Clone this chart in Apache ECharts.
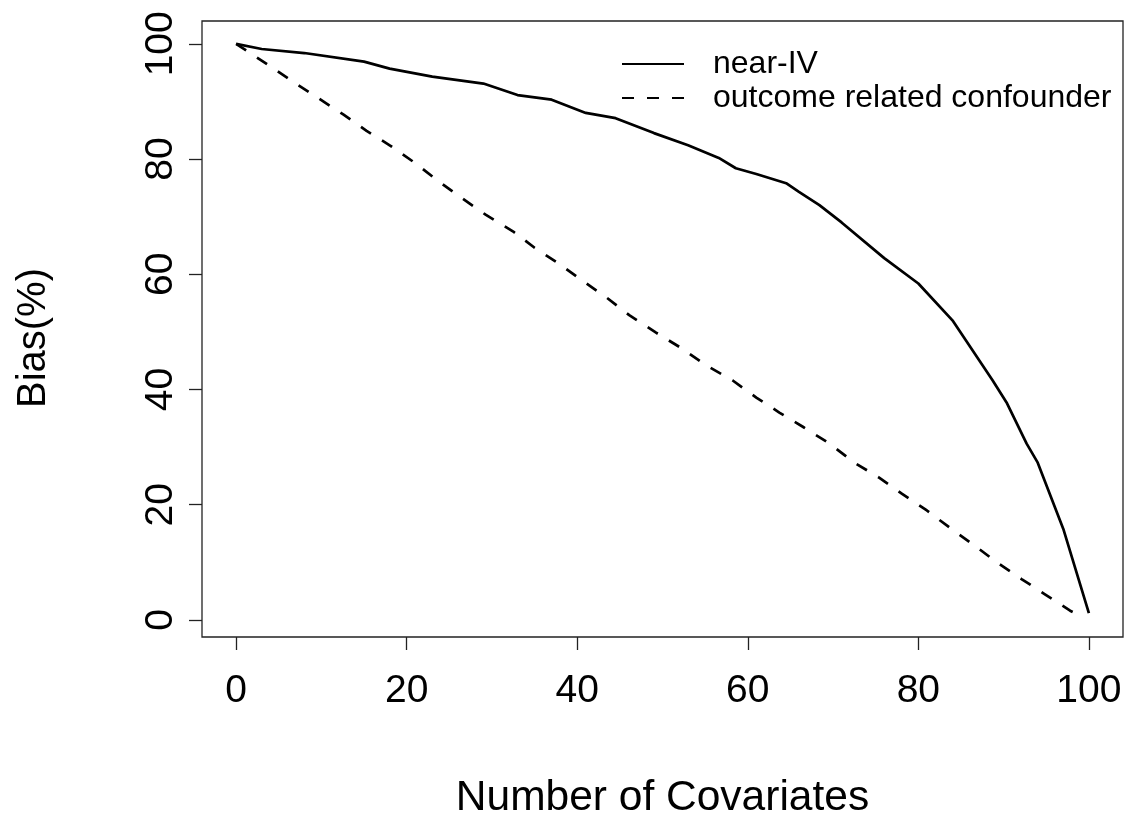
<!DOCTYPE html>
<html>
<head>
<meta charset="utf-8">
<script src="https://cdn.jsdelivr.net/npm/echarts@6/dist/echarts.min.js"></script>
<style>
html,body{margin:0;padding:0;background:#fff;}
#chart{width:1128px;height:819px;}
</style>
</head>
<body>
<div id="chart"></div>
<script>
// near-IV (solid)
const nearIV_x = [0,3,8,15,18,23,29,33,37,41,44.5,49,53,56.6,58.6,61,64.5,66,68.4,71,76,80,84,88.7,90.4,92.7,94,97,100];
const nearIV_y = [100,99.1,98.4,96.9,95.7,94.3,93.1,91.1,90.3,88.0,87.1,84.5,82.4,80.2,78.4,77.4,75.8,74.3,72.0,69.0,62.8,58.4,52.0,41.6,37.6,30.6,27.3,15.8,1.2];
// outcome related confounder (dashed)
const conf_x = [0,3.8,6.9,9.6,12.6,15.3,18.1,21.0,23.6,26.3,29.3,32.6,35,37.8,40.5,43.4,46.1,49.2,52.3,55.1,58.2,61,63.7,66.6,69.6,72.5,75.4,78.1,81,83.7,86.6,89.3,92.1,94.8,97.8,98.6];
const conf_y = [100,96.3,93.2,90.6,87.7,84.9,82.3,79.3,76.3,73.4,70.3,67.3,64.6,61.9,59.0,56.0,52.9,49.9,47.1,44.2,41.6,38.6,36.0,33.4,30.6,27.3,24.7,21.9,19.0,16.0,12.9,9.9,7.1,4.5,1.6,1.0];
const xTicks = [0,20,40,60,80,100];
const yTicks = [0,20,40,60,80,100];
const seriesNames = ['near-IV','outcome related confounder'];
const xTitle = 'Number of Covariates';
const yTitle = 'Bias(%)';

const FONT = 'Liberation Sans, Arial, sans-serif';
const chart = echarts.init(document.getElementById('chart'), null, {renderer:'canvas'});
chart.setOption({
  animation:false,
  backgroundColor:'#fff',
  grid:{left:202,right:5,top:21,bottom:182,show:true,borderColor:'#222',borderWidth:1.3,backgroundColor:'transparent',outerBoundsMode:'none',containLabel:false},
  legend:{
    orient:'vertical', left:616, top:43, itemWidth:62, itemHeight:20, itemGap:2,
    data:seriesNames,
    itemStyle:{opacity:0},
    textStyle:{fontFamily:FONT,fontSize:32,color:'#000',padding:[0,0,0,24]}
  },
  xAxis:{
    type:'value', min:-4, max:104,
    axisLine:{show:false,onZero:false},
    splitLine:{show:false},
    axisTick:{show:true,length:13,inside:false,customValues:xTicks,lineStyle:{color:'#222',width:1.3}},
    axisLabel:{customValues:xTicks,fontFamily:FONT,fontSize:39,color:'#000',margin:35},
    name:xTitle, nameLocation:'middle', nameGap:140,
    nameTextStyle:{fontFamily:FONT,fontSize:42.5,color:'#000'}
  },
  yAxis:{
    type:'value', min:-2.96, max:103.96,
    axisLine:{show:false,onZero:false},
    splitLine:{show:false},
    axisTick:{show:true,length:13,inside:false,customValues:yTicks,lineStyle:{color:'#222',width:1.3}},
    axisLabel:{customValues:yTicks,rotate:90,fontFamily:FONT,fontSize:39,color:'#000',margin:21},
    name:yTitle, nameLocation:'middle', nameGap:148,
    nameTextStyle:{fontFamily:FONT,fontSize:40,color:'#000',padding:[0,18,0,0]}
  },
  series:[
    {name:seriesNames[0],type:'line',symbol:'none',
     data:nearIV_x.map((x,i)=>[x,nearIV_y[i]]),
     lineStyle:{color:'#000',width:2.7,type:'solid'},itemStyle:{color:'#000'}},
    {name:seriesNames[1],type:'line',symbol:'none',
     data:conf_x.map((x,i)=>[x,conf_y[i]]),
     lineStyle:{color:'#000',width:2.7,type:[12,13]},itemStyle:{color:'#000'}}
  ]
});
</script>
</body>
</html>
